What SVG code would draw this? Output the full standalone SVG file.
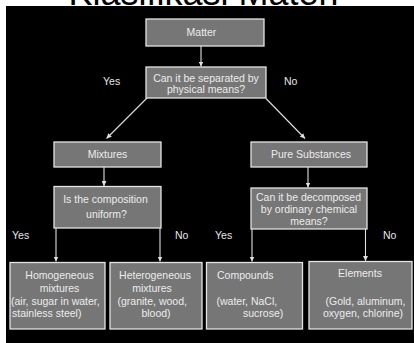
<svg xmlns="http://www.w3.org/2000/svg" width="414" height="343" viewBox="0 0 414 343">
<style>
.box{fill:#767676;stroke:#e4e4e4;stroke-width:1.3}
.t{font-family:"Liberation Sans",Arial,sans-serif;font-size:10.5px;fill:#ececec;text-anchor:middle}
.l{font-family:"Liberation Sans",Arial,sans-serif;font-size:10.5px;fill:#e6e6e6}
.st{text-anchor:start}
.c{stroke:#e0e0e0;stroke-width:1.1;fill:none}
</style>
<defs>
<marker id="ah" viewBox="0 0 8 8" refX="8" refY="4" markerWidth="5" markerHeight="5" orient="auto" markerUnits="userSpaceOnUse">
<path d="M0,0 L8,4 L0,8 Z" fill="#e0e0e0"/>
</marker>
</defs>
<rect x="0" y="0" width="414" height="343" fill="#ffffff"/>
<text x="203.5" y="5" font-family="Liberation Sans,Arial,sans-serif" font-size="36" text-anchor="middle" fill="#000000">Klasifikasi Materi</text>
<rect x="6" y="6" width="408" height="337" fill="#000000"/>

<g id="connectors">
<line class="c" x1="201" y1="46" x2="201" y2="66.5" marker-end="url(#ah)"/>
<line class="c" x1="147" y1="98" x2="106.5" y2="138.5" marker-end="url(#ah)"/>
<line class="c" x1="266" y1="98.5" x2="305" y2="138.5" marker-end="url(#ah)"/>
<line class="c" x1="104" y1="167" x2="104" y2="186" marker-end="url(#ah)"/>
<line class="c" x1="308" y1="167" x2="308" y2="187.5" marker-end="url(#ah)"/>
<line class="c" x1="56" y1="228" x2="56" y2="261.5" marker-end="url(#ah)"/>
<line class="c" x1="160" y1="228" x2="160" y2="261.5" marker-end="url(#ah)"/>
<line class="c" x1="252" y1="229" x2="252" y2="261.5" marker-end="url(#ah)"/>
<line class="c" x1="365.5" y1="229" x2="365.5" y2="261" marker-end="url(#ah)"/>
</g>

<g id="labels">
<text class="l" x="103" y="85">Yes</text>
<text class="l" x="284" y="85">No</text>
<text class="l" x="12" y="239">Yes</text>
<text class="l" x="175" y="239">No</text>
<text class="l" x="215" y="239">Yes</text>
<text class="l" x="383" y="239">No</text>
</g>

<g id="matter">
<rect class="box" x="146" y="19" width="118" height="27"/>
<text class="t" x="201.5" y="35.5" font-size="12.5">Matter</text>
</g>

<g id="q-separated">
<rect class="box" x="146" y="67" width="120" height="31"/>
<text class="t" x="206" y="81.5">Can it be separated by</text>
<text class="t" x="206" y="93">physical means?</text>
</g>

<g id="mixtures">
<rect class="box" x="54" y="142" width="107" height="25"/>
<text class="t" x="107.5" y="158">Mixtures</text>
</g>

<g id="pure-substances">
<rect class="box" x="251" y="142" width="116" height="25"/>
<text class="t" x="311" y="158">Pure Substances</text>
</g>

<g id="q-uniform">
<rect class="box" x="54" y="186.5" width="107" height="41.5"/>
<text class="t" x="105.5" y="203">Is the composition</text>
<text class="t" x="106.5" y="218">uniform?</text>
</g>

<g id="q-decomposed">
<rect class="box" x="251" y="188" width="116" height="41"/>
<text class="t" x="308.5" y="201">Can it be decomposed</text>
<text class="t" x="309" y="213">by ordinary chemical</text>
<text class="t" x="309" y="225">means?</text>
</g>

<g id="homogeneous">
<rect class="box" x="10" y="262.5" width="95" height="66.5"/>
<text class="t" x="59.5" y="279">Homogeneous</text>
<text class="t" x="59.5" y="292">mixtures</text>
<text class="t st" x="11" y="305">(air, sugar in water,</text>
<text class="t st" x="12" y="317">stainless steel)</text>
</g>

<g id="heterogeneous">
<rect class="box" x="110" y="262.5" width="92" height="66.5"/>
<text class="t" x="155" y="279">Heterogeneous</text>
<text class="t" x="152" y="292">mixtures</text>
<text class="t st" x="117.5" y="305">(granite, wood,</text>
<text class="t" x="156" y="317">blood)</text>
</g>

<g id="compounds">
<rect class="box" x="206.5" y="262.5" width="96" height="66.5"/>
<text class="t st" x="217" y="279">Compounds</text>
<text class="t st" x="216.5" y="305">(water, NaCl,</text>
<text class="t st" x="243" y="317">sucrose)</text>
</g>

<g id="elements">
<rect class="box" x="309" y="261.5" width="103" height="67.5"/>
<text class="t" x="360" y="277">Elements</text>
<text class="t" x="365.5" y="305">(Gold, aluminum,</text>
<text class="t" x="363" y="317">oxygen, chlorine)</text>
</g>
</svg>
